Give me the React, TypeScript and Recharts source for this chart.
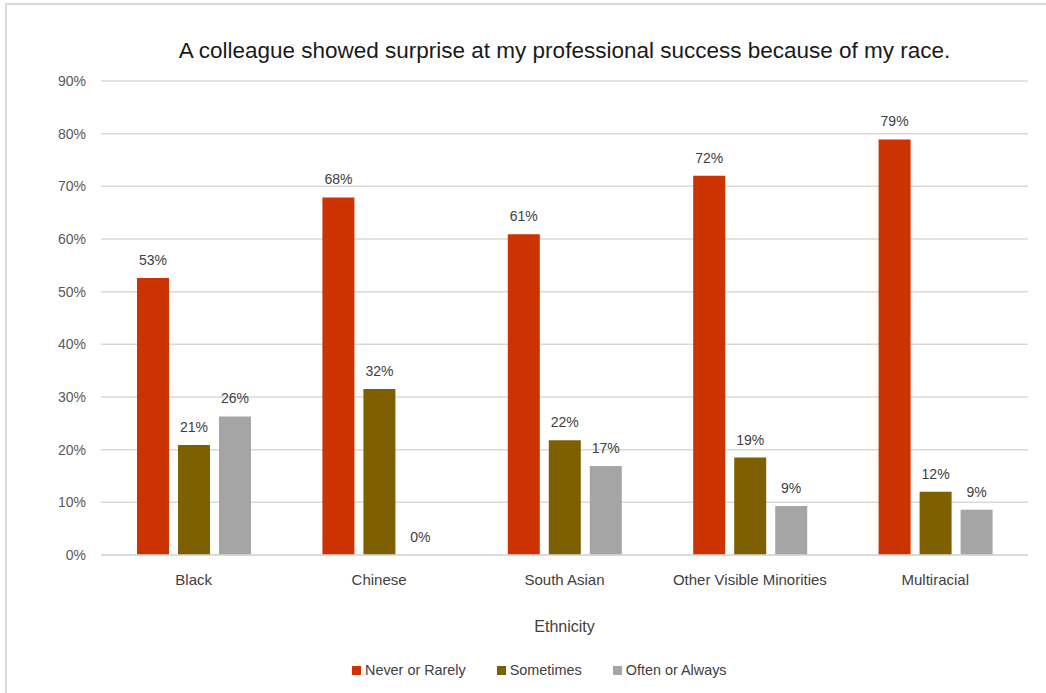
import React from 'react';
import { BarChart, Bar, XAxis, YAxis, CartesianGrid, LabelList, Legend } from 'recharts';

const categories = ['Black', 'Chinese', 'South Asian', 'Other Visible Minorities', 'Multiracial'];
const neverOrRarely = [52.6, 67.9, 60.9, 72.0, 78.9];
const sometimes = [20.9, 31.5, 21.8, 18.5, 12.0];
const oftenOrAlways = [26.3, 0, 16.9, 9.3, 8.6];
const yTicks = [0, 10, 20, 30, 40, 50, 60, 70, 80, 90];
const seriesNames = ['Never or Rarely', 'Sometimes', 'Often or Always'];
const seriesKeys = ['never', 'sometimes', 'often'];
const colors = ['#CC3300', '#7F6000', '#A5A5A5'];

const data = categories.map((c, i) => ({
  name: c,
  never: neverOrRarely[i],
  sometimes: sometimes[i],
  often: oftenOrAlways[i],
}));

const FONT = '"Liberation Sans", Arial, sans-serif';

const LegendContent = () => (
  <div style={{ display: 'flex', alignItems: 'center', height: 20, fontFamily: FONT, fontSize: 14.4, color: '#404040' }}>
    {seriesNames.map((n, i) => (
      <div key={n} style={{ display: 'flex', alignItems: 'center', marginRight: 31 }}>
        <div style={{ width: 9, height: 9, background: colors[i], marginRight: 4 }} />
        <span style={{ whiteSpace: 'nowrap' }}>{n}</span>
      </div>
    ))}
  </div>
);

const BarTopLabel = (props: any) => {
  const { x, y, width, value } = props;
  if (value == null) return null;
  return (
    <text
      x={Number(x) + Number(width) / 2}
      y={Number(y) - 13}
      textAnchor="middle"
      fill="#404040"
      fontSize={14}
      fontFamily={FONT}
    >
      {`${Math.round(Number(value))}%`}
    </text>
  );
};

export default function App() {
  return (
    <div style={{ position: 'absolute', left: 0, top: 0, width: 1046, height: 693, background: '#fff', overflow: 'hidden' }}>
      <div style={{ position: 'absolute', left: 5, top: 3, width: 1100, height: 800, borderTop: '2px solid #d9d9d9', borderLeft: '2px solid #d9d9d9' }} />
      <div style={{ position: 'absolute', left: 101, top: 38, width: 927, textAlign: 'center', fontFamily: FONT, fontSize: 22.5, color: '#1a1a1a', whiteSpace: 'nowrap' }}>
        A colleague showed surprise at my professional success because of my race.
      </div>
      <div style={{ position: 'absolute', left: 0, top: 0 }}>
        <BarChart
          width={1046}
          height={693}
          data={data}
          margin={{ top: 81, right: 18, bottom: 58, left: 0 }}
          barSize={32}
          barGap={9}
        >
          <CartesianGrid vertical={false} stroke="#d9d9d9" strokeWidth={1.5} />
          <XAxis
            dataKey="name"
            height={80}
            tickLine={false}
            tickSize={0}
            tickMargin={19}
            axisLine={{ stroke: '#d9d9d9', strokeWidth: 1.5 }}
            tick={{ fill: '#404040', fontSize: 15, fontFamily: FONT }}
            interval={0}
            label={{ value: 'Ethnicity', position: 'insideBottom', offset: 3, fill: '#404040', fontSize: 16, fontFamily: FONT }}
          />
          <YAxis
            width={101}
            domain={[0, 90]}
            ticks={yTicks}
            tickFormatter={(v: number) => `${v}%`}
            tickLine={false}
            tickSize={0}
            tickMargin={15}
            axisLine={false}
            tick={{ fill: '#595959', fontSize: 14, fontFamily: FONT }}
          />
          <Legend
            layout="horizontal"
            verticalAlign="middle"
            align="center"
            wrapperStyle={{ left: 352, top: 660, width: 500 }}
            content={() => <LegendContent />}
          />
          {seriesKeys.map((k, i) => (
            <Bar key={k} dataKey={k} name={seriesNames[i]} fill={colors[i]} isAnimationActive={false} minPointSize={0.01}>
              <LabelList dataKey={k} content={BarTopLabel} />
            </Bar>
          ))}
        </BarChart>
      </div>
    </div>
  );
}
